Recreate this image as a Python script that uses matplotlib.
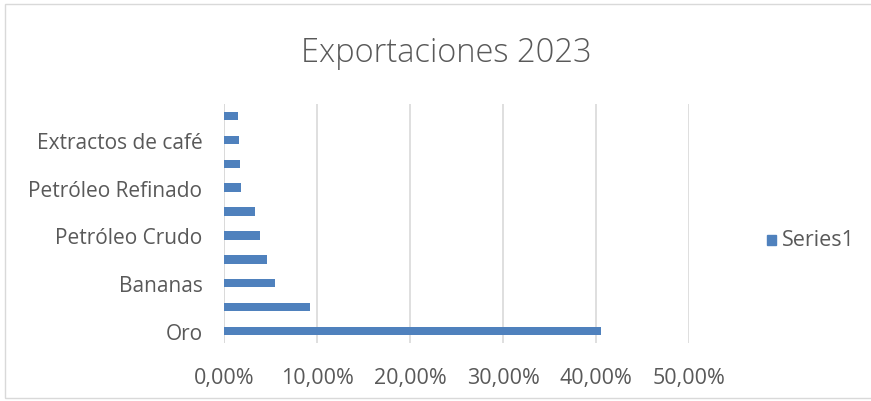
import matplotlib.pyplot as plt
import matplotlib.patches as mpatches
from matplotlib.ticker import FuncFormatter, MultipleLocator

plt.rcParams['font.family'] = ['Open Sans', 'DejaVu Sans']

categories = ['Oro', '', 'Bananas', '', 'Petróleo Crudo', '',
              'Petróleo Refinado', '', 'Extractos de café', '']
values = [40.5, 9.3, 5.45, 4.65, 3.87, 3.37, 1.87, 1.76, 1.58, 1.47]

text_col = '#595959'
bar_col = '#4F81BD'

fig = plt.figure(figsize=(8.71, 4.02), dpi=100)
W, H = 871, 402
ax = fig.add_axes([224 / W, 1 - 344 / H, (689 - 224) / W, (344 - 105) / H])

pos = list(range(len(values)))
ax.barh(pos, values, height=0.35, color=bar_col, zorder=3)

ax.set_xlim(0, 50)
ax.set_ylim(-0.5, len(values) - 0.5)
ax.xaxis.set_major_locator(MultipleLocator(10))
ax.xaxis.set_major_formatter(FuncFormatter(lambda v, p: '{:.2f}%'.format(v).replace('.', ',')))
ax.set_yticks(pos)
ax.set_yticklabels(categories)
ax.grid(axis='x', color='#D9D9D9', linewidth=1.2, zorder=0)
for s in ax.spines.values():
    s.set_visible(False)
ax.axvline(0, color='#D9D9D9', linewidth=1.2, zorder=1)
ax.tick_params(axis='both', length=0, colors=text_col)
ax.tick_params(axis='x', pad=17, labelsize=15.5)
ax.tick_params(axis='y', pad=15.5, labelsize=15)

fig.text(446 / W, 1 - 53 / H, 'Exportaciones 2023', ha='center', va='center',
         fontsize=23.5, color=text_col, fontweight='light')

# legend
fig.patches.append(mpatches.Rectangle((767 / W, 1 - 246 / H), 9 / W, 10 / H,
                                      transform=fig.transFigure, color=bar_col))
fig.text(782 / W, 1 - 241 / H, 'Series1', ha='left', va='center', fontsize=15.5, color=text_col)

# chart border
fig.patches.append(mpatches.Rectangle((5 / W, 3 / H), 880 / W, 394 / H, transform=fig.transFigure,
                                      fill=False, edgecolor='#D9D9D9', linewidth=1))

fig.savefig('out.png', dpi=100)
